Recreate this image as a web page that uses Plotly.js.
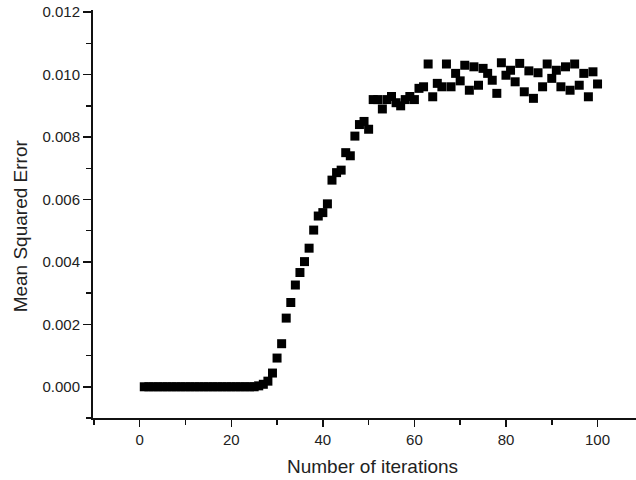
<!DOCTYPE html>
<html>
<head>
<meta charset="utf-8">
<script src="https://cdn.plot.ly/plotly-3.0.1.min.js"></script>
<style>
  html, body { margin: 0; padding: 0; background: #fff; }
  #chart { width: 636px; height: 480px; }
</style>
</head>
<body>
<div id="chart"></div>
<script>
// Iteration numbers
const iterations = Array.from({length: 100}, (_, i) => i + 1);

// Mean squared error values
const mseFlat = [0,0,0,0,0,0,0,0,0,0,0,0,0,0,0,0,0,0,0,0,0,0,0,0,0]; // iterations 1-25
const mseRise = [0.00003,0.00008,0.00018,0.00044,0.00092,0.00138,0.0022,0.0027,0.00326,0.00366,
                 0.00401,0.00444,0.00502,0.00547,0.00558,0.00586,0.00662,0.00686,0.00694,0.0075,
                 0.0074,0.00803,0.0084,0.0085,0.00825,0.0092,0.0092,0.0089,0.0092,0.0093,
                 0.0091,0.0090,0.0092,0.0093,0.0092]; // iterations 26-60
const msePlateau = [0.00956,0.00961,0.01034,0.00929,0.00972,0.00961,0.01034,0.00961,0.01004,0.0098,
                    0.0103,0.0095,0.01025,0.00966,0.0102,0.01004,0.00982,0.0094,0.01038,0.00998,
                    0.01014,0.00977,0.01036,0.00945,0.01012,0.00924,0.01006,0.00961,0.01034,0.00988,
                    0.01014,0.00961,0.01025,0.0095,0.01034,0.00966,0.01004,0.00929,0.01009,0.0097]; // iterations 61-100
const mse = mseFlat.concat(mseRise, msePlateau);

const xTitle = "Number of iterations";
const yTitle = "Mean Squared Error";

const fontFam = "Liberation Sans, Arial, Helvetica, sans-serif";
const textColor = "#222";

const trace = {
  x: iterations,
  y: mse,
  type: "scatter",
  mode: "markers",
  marker: { symbol: "square", size: 9, color: "#000", line: { width: 0 } },
  hoverinfo: "x+y"
};

const layout = {
  width: 636,
  height: 480,
  margin: { l: 93, r: 0, t: 10, b: 61.7 },
  paper_bgcolor: "#fff",
  plot_bgcolor: "#fff",
  showlegend: false,
  font: { family: fontFam, color: textColor, size: 15 },
  xaxis: {
    range: [-10.2, 108.4],
    tick0: 0,
    dtick: 20,
    ticks: "outside",
    ticklen: 7,
    tickwidth: 1.5,
    tickcolor: "#111",
    showline: true,
    linecolor: "#111",
    linewidth: 2,
    showgrid: false,
    zeroline: false,
    tickfont: { family: fontFam, size: 15, color: textColor },
    minor: { dtick: 10, tick0: 0, ticks: "outside", ticklen: 5, tickwidth: 1.5, tickcolor: "#111", showgrid: false }
  },
  yaxis: {
    range: [-0.001, 0.01207],
    tick0: 0,
    dtick: 0.002,
    tickformat: ".3f",
    ticks: "outside",
    ticklen: 8,
    tickwidth: 1.5,
    tickcolor: "#111",
    showline: true,
    linecolor: "#111",
    linewidth: 2,
    showgrid: false,
    zeroline: false,
    tickfont: { family: fontFam, size: 15, color: textColor },
    minor: { dtick: 0.001, tick0: 0, ticks: "outside", ticklen: 5, tickwidth: 1.5, tickcolor: "#111", showgrid: false }
  },
  annotations: [
    {
      text: xTitle, xref: "paper", yref: "paper", x: 0.5153, y: 0,
      xanchor: "center", yanchor: "middle", yshift: -48, showarrow: false,
      font: { family: fontFam, size: 19, color: textColor }
    },
    {
      text: yTitle, xref: "paper", yref: "paper", x: 0, y: 0.4697,
      xanchor: "center", yanchor: "middle", xshift: -73, textangle: -90, showarrow: false,
      font: { family: fontFam, size: 19, color: textColor }
    }
  ]
};

Plotly.newPlot("chart", [trace], layout, { staticPlot: true, displayModeBar: false });
</script>
</body>
</html>
